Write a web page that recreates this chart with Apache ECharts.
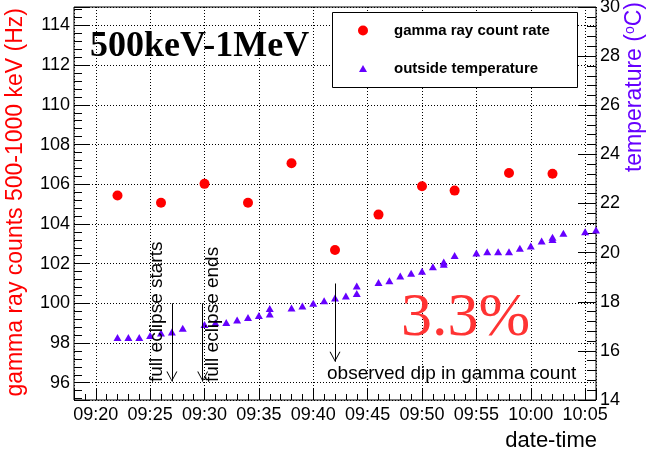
<!DOCTYPE html>
<html><head><meta charset="utf-8">
<script src="https://cdn.jsdelivr.net/npm/echarts@6/dist/echarts.min.js"></script>
<style>html,body{margin:0;padding:0;background:#fff}#c{width:647px;height:458px}</style>
</head><body><div id="c"></div>
<script>
// ---- data ----
const gammaTimes = ['09:22','09:26','09:30','09:34','09:38','09:42','09:46','09:50','09:53','09:58','10:02'];
const gammaRate  = [105.43, 105.07, 106.02, 105.07, 107.06, 102.69, 104.47, 105.90, 105.68, 106.57, 106.53];

const tempTimes = ['09:22','09:23','09:24','09:25','09:26','09:27','09:28','09:30','09:31','09:32','09:33',
  '09:34','09:35','09:36','09:36','09:38','09:39','09:40','09:41','09:42','09:43','09:44','09:44',
  '09:46','09:47','09:48','09:49','09:50','09:51','09:52','09:52','09:53','09:55','09:56','09:57',
  '09:58','09:59','10:00','10:01','10:02','10:02','10:03','10:05','10:06'];
const tempValues = [16.54,16.54,16.54,16.63,16.73,16.77,16.92,17.07,17.14,17.16,17.26,
  17.36,17.44,17.50,17.73,17.75,17.83,17.94,18.04,18.15,18.23,18.34,18.64,
  18.78,18.85,19.05,19.16,19.24,19.43,19.53,19.62,19.88,19.98,20.04,20.04,
  20.04,20.18,20.27,20.47,20.53,20.63,20.79,20.85,20.92];

const xTickLabels = ['09:20','09:25','09:30','09:35','09:40','09:45','09:50','09:55','10:00','10:05'];
const leftTickLabels = ['96','98','100','102','104','106','108','110','112','114'];
const rightTickLabels = ['14','16','18','20','22','24','26','28','30'];

// annotation arrows (time, top value, bottom value on the gamma axis)
const arrowTimes  = ['09:27:00','09:29:50','09:42:00'];
const arrowTop    = [100.0, 100.0, 101.0];
const arrowBottom = [96.06, 96.06, 97.06];

// ---- helpers ----
function toMin(s){ const p = s.split(':').map(Number); return p[0]*60 + p[1] + (p[2]||0)/60; }
function fmt(v){ const h = Math.floor(v/60), m = Math.round(v - h*60); return String(h).padStart(2,'0')+':'+String(m).padStart(2,'0'); }

const xMin = toMin('09:18'), xMax = toMin('10:06');
const SANS = 'Liberation Sans';
const SERIF = 'Liberation Serif';

const chart = echarts.init(document.getElementById('c'), null, {renderer:'canvas'});
const chevron = 'path://M5,0 M5,10 L10,20 L9,20 L5,11.6 L1,20 L0,20 Z';

chart.setOption({
  animation: false,
  backgroundColor: '#fff',
  grid: {left:74, right:51, top:7, bottom:58, show:true, borderColor:'#000', borderWidth:1,
         backgroundColor:'transparent', containLabel:false, outerBoundsMode:'none'},
  xAxis: [{
    type:'value', min:xMin, max:xMax, splitNumber:10, position:'bottom',
    axisLine:{show:false},
    axisTick:{show:true, inside:true, length:11, lineStyle:{color:'#000', width:1}},
    axisLabel:{show:true, margin:6, color:'#000', fontSize:18, fontFamily:SANS, hideOverlap:false,
      formatter: v => { const s = fmt(v); return xTickLabels.includes(s) && Math.abs(toMin(s)-v) < 1e-6 ? s : ''; }},
    splitLine:{show:true, lineStyle:{color:'#000', width:1, type:[1,2]}}
  },{
    type:'value', min:xMin, max:xMax, interval:1, position:'bottom', gridIndex:0,
    axisLine:{show:false}, axisLabel:{show:false}, splitLine:{show:false},
    axisTick:{show:true, inside:true, length:6, lineStyle:{color:'#000', width:1}}
  }],
  yAxis: [{
    type:'value', min:95.13, max:114.93, splitNumber:10, position:'left',
    axisLine:{show:false},
    axisTick:{show:true, inside:true, length:16, lineStyle:{color:'#000', width:1}},
    minorTick:{show:true, splitNumber:5, length:8, lineStyle:{color:'#000', width:1}},
    axisLabel:{show:true, margin:4, color:'#000', fontSize:18, fontFamily:SANS, hideOverlap:false,
      formatter: v => leftTickLabels.includes(String(v)) ? String(v) : ''},
    splitLine:{show:true, lineStyle:{color:'#000', width:1, type:[1,2]}}
  },{
    type:'value', min:14, max:30, interval:2, position:'right',
    axisLine:{show:false},
    axisTick:{show:true, inside:true, length:18, lineStyle:{color:'#000', width:1}},
    minorTick:{show:true, splitNumber:5, length:9, lineStyle:{color:'#000', width:1}},
    axisLabel:{show:true, margin:4, color:'#000', fontSize:18, fontFamily:SANS, hideOverlap:false,
      formatter: v => rightTickLabels.includes(String(v)) ? String(v) : ''},
    splitLine:{show:false}
  }],
  legend: [{
    data:['gamma ray count rate'], left:358, top:23, orient:'vertical', padding:0,
    itemWidth:10, itemHeight:10, selectedMode:false, z:6,
    textStyle:{color:'#000', fontSize:15, fontWeight:'bold', fontFamily:SANS, padding:[0,0,0,21]}
  },{
    data:['outside temperature'], left:359, top:61, orient:'vertical', padding:0,
    itemWidth:8, itemHeight:7, selectedMode:false, z:6,
    textStyle:{color:'#000', fontSize:15, fontWeight:'bold', fontFamily:SANS, padding:[0,0,0,22]}
  }],
  series: [{
    name:'gamma ray count rate', type:'scatter', xAxisIndex:0, yAxisIndex:0,
    symbol:'circle', symbolSize:10, itemStyle:{color:'#ff0000', opacity:1}, clip:false, z:3,
    data: gammaTimes.map((t,i) => [toMin(t), gammaRate[i]]),
    markLine: {
      silent:true, animation:false, precision:4,
      symbol:['none', chevron], symbolSize:[11,20],
      label:{show:false},
      lineStyle:{color:'#000', width:1, type:'solid', opacity:1},
      emphasis:{disabled:true},
      data: arrowTimes.map((t,i) => [
        {coord:[toMin(t), arrowTop[i]]},
        {coord:[toMin(t), arrowBottom[i]]}
      ])
    }
  },{
    name:'outside temperature', type:'scatter', xAxisIndex:0, yAxisIndex:1,
    symbol:'triangle', symbolSize:[8,7], itemStyle:{color:'#6600ff', opacity:1}, clip:false, z:3,
    data: tempTimes.map((t,i) => [toMin(t), tempValues[i]])
  }],
  graphic: [
    {type:'rect', z:5, shape:{x:332.5, y:12.5, width:245, height:75},
      style:{fill:'#fff', stroke:'#000', lineWidth:1}},
    {type:'text', z:6, x:90, y:46.5,
      style:{text:'500keV-1MeV', fill:'#000', fontSize:36, fontWeight:'bold', fontFamily:SERIF, align:'left', verticalAlign:'middle'}},
    {type:'text', z:6, x:401, y:319,
      style:{text:'3.3%', fill:'#ff3333', fontSize:62, fontFamily:SERIF, align:'left', verticalAlign:'middle'}},
    {type:'text', z:6, x:157, y:382, rotation:Math.PI/2,
      style:{text:'full eclipse starts', fill:'#000', fontSize:19, fontFamily:SANS, align:'left', verticalAlign:'middle'}},
    {type:'text', z:6, x:213, y:382, rotation:Math.PI/2,
      style:{text:'full eclipse ends', fill:'#000', fontSize:19, fontFamily:SANS, align:'left', verticalAlign:'middle'}},
    {type:'text', z:6, x:327, y:374,
      style:{text:'observed dip in gamma count', fill:'#000', fontSize:19, fontFamily:SANS, align:'left', verticalAlign:'middle'}},
    {type:'text', z:6, x:16, y:8, rotation:Math.PI/2,
      style:{text:'gamma ray counts 500-1000 keV (Hz)', fill:'#ff0000', fontSize:23, fontFamily:SANS, align:'right', verticalAlign:'middle'}},
    {type:'text', z:6, x:635, y:2, rotation:Math.PI/2,
      style:{text:'temperature ({s|o}C)', fill:'#6600ff', fontSize:23, fontFamily:SANS, align:'right', verticalAlign:'middle',
        rich:{s:{fontSize:14, fontFamily:SANS, fill:'#6600ff', verticalAlign:'top'}}}},
    {type:'text', z:6, x:597, y:441,
      style:{text:'date-time', fill:'#000', fontSize:22, fontFamily:SANS, align:'right', verticalAlign:'middle'}}
  ]
});
</script></body></html>
